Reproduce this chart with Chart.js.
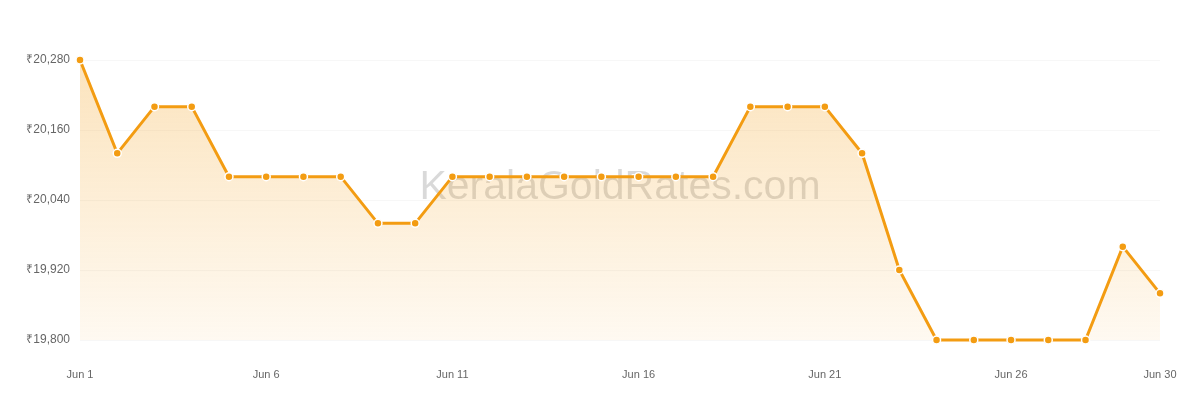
<!DOCTYPE html>
<html>
<head>
<meta charset="utf-8">
<title>Gold rate June</title>
<script src="https://cdn.jsdelivr.net/npm/chart.js@4/dist/chart.umd.min.js"></script>
<style>
    html, body { margin: 0; padding: 0; background: #fff; }
    #wrap { position: relative; width: 1200px; height: 400px; }
</style>
</head>
<body>
<div id="wrap"><canvas id="rateChart"></canvas></div>
<script>
// Daily rate for June (per gram)
const days = [
    'Jun 1', 'Jun 2', 'Jun 3', 'Jun 4', 'Jun 5', 'Jun 6', 'Jun 7', 'Jun 8', 'Jun 9', 'Jun 10',
    'Jun 11', 'Jun 12', 'Jun 13', 'Jun 14', 'Jun 15', 'Jun 16', 'Jun 17', 'Jun 18', 'Jun 19', 'Jun 20',
    'Jun 21', 'Jun 22', 'Jun 23', 'Jun 24', 'Jun 25', 'Jun 26', 'Jun 27', 'Jun 28', 'Jun 29', 'Jun 30'
];
const rates = [
    20280, 20120, 20200, 20200, 20080, 20080, 20080, 20080, 20000, 20000,
    20080, 20080, 20080, 20080, 20080, 20080, 20080, 20080, 20200, 20200,
    20200, 20120, 19920, 19800, 19800, 19800, 19800, 19800, 19960, 19880
];
const shownDays = ['Jun 1', 'Jun 6', 'Jun 11', 'Jun 16', 'Jun 21', 'Jun 26', 'Jun 30'];
const yTicks = [19800, 19920, 20040, 20160, 20280];

const orange = '#f39c12';

// Watermark drawn behind the line
const watermark = {
    id: 'watermark',
    beforeDatasetsDraw(chart) {
        const { ctx, chartArea } = chart;
        ctx.save();
        ctx.font = '41px "Liberation Sans", Arial, sans-serif';
        ctx.fillStyle = 'rgba(0, 0, 0, 0.15)';
        ctx.textAlign = 'center';
        ctx.textBaseline = 'middle';
        ctx.fillText('KeralaGoldRates.com', (chartArea.left + chartArea.right) / 2, 188);
        ctx.restore();
    }
};

const ctx = document.getElementById('rateChart').getContext('2d');

new Chart(ctx, {
    type: 'line',
    data: {
        labels: days,
        datasets: [{
            label: 'Rate',
            data: rates,
            borderColor: orange,
            borderWidth: 3,
            pointRadius: 4,
            pointHoverRadius: 4,
            pointBackgroundColor: orange,
            pointBorderColor: '#ffffff',
            pointBorderWidth: 1.5,
            tension: 0,
            fill: 'start',
            clip: false,
            backgroundColor: function (context) {
                const area = context.chart.chartArea;
                if (!area) return 'rgba(243,156,18,0.2)';
                const g = context.chart.ctx.createLinearGradient(0, area.top, 0, area.bottom);
                g.addColorStop(0, 'rgba(243,156,18,0.28)');
                g.addColorStop(1, 'rgba(243,156,18,0.06)');
                return g;
            }
        }]
    },
    options: {
        responsive: true,
        maintainAspectRatio: false,
        animation: false,
        layout: {
            padding: { top: 60, right: 40, bottom: 0, left: 0 }
        },
        plugins: {
            legend: { display: false },
            tooltip: { enabled: false }
        },
        scales: {
            x: {
                afterFit(scale) {
                    scale.height = 60;
                    scale.paddingLeft = 0;
                    scale.paddingRight = 0;
                },
                grid: { display: false, drawTicks: false },
                border: { display: false },
                ticks: {
                    autoSkip: false,
                    maxRotation: 0,
                    padding: 28,
                    color: '#666',
                    font: { family: '"Liberation Sans", Arial, sans-serif', size: 11 },
                    callback: function (value) {
                        const label = this.getLabelForValue(value);
                        return shownDays.includes(label) ? label : '';
                    }
                }
            },
            y: {
                min: 19800,
                max: 20280,
                afterFit(scale) { scale.width = 80; },
                afterBuildTicks(scale) {
                    scale.ticks = yTicks.map(v => ({ value: v }));
                },
                grid: { color: 'rgba(0,0,0,0.03)', drawTicks: false },
                border: { display: false },
                ticks: {
                    padding: 10,
                    color: '#666',
                    font: { family: '"Liberation Sans", Arial, sans-serif', size: 12 },
                    callback: v => '₹' + v.toLocaleString('en-IN')
                }
            }
        }
    },
    plugins: [watermark]
});
</script>
</body>
</html>
